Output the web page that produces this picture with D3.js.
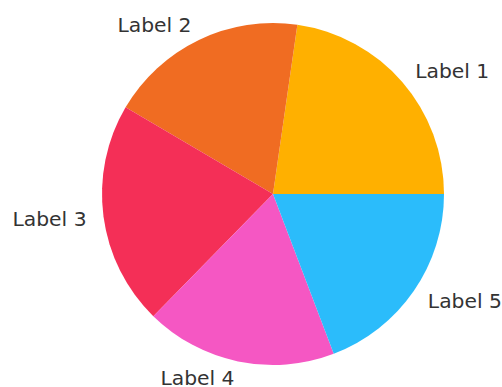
<!DOCTYPE html>
<html>
<head>
<meta charset="utf-8">
<script src="https://cdn.jsdelivr.net/npm/d3@7"></script>
<style>
  html, body { margin: 0; padding: 0; background: #fff; }
</style>
</head>
<body>
<svg id="chart" width="502" height="387"></svg>
<script>
const labels = ["Label 1", "Label 2", "Label 3", "Label 4", "Label 5"];
const values = [22.7, 18.8, 21.1, 18.1, 19.2];
const colors = ["#ffb000", "#f06c22", "#f42f57", "#f557c3", "#2bbcfb"];

const width = 502,
  height = 387;
const cx = 273,
  cy = 194,
  radius = 171;

const svg = d3.select("#chart");
const g = svg.append("g").attr("transform", `translate(${cx},${cy})`);

// matplotlib style: start at 3 o'clock, go counterclockwise
const pie = d3
  .pie()
  .sort(null)
  .value((d) => d)
  .startAngle(Math.PI / 2)
  .endAngle(Math.PI / 2 - 2 * Math.PI);

const arc = d3.arc().innerRadius(0).outerRadius(radius);
const arcs = pie(values);

g.selectAll("path")
  .data(arcs)
  .join("path")
  .attr("d", arc)
  .attr("fill", (d, i) => colors[i]);

// labels at 1.1 * radius
const lr = radius * 1.1;
g.selectAll("text")
  .data(arcs)
  .join("text")
  .attr("x", (d) => lr * Math.sin((d.startAngle + d.endAngle) / 2))
  .attr("y", (d) => -lr * Math.cos((d.startAngle + d.endAngle) / 2))
  .attr("dy", "0.36em")
  .attr("text-anchor", (d) =>
    Math.sin((d.startAngle + d.endAngle) / 2) >= 0 ? "start" : "end"
  )
  .attr("font-family", "DejaVu Sans, sans-serif")
  .attr("font-size", 20.3)
  .attr("fill", "#333")
  .text((d, i) => labels[i]);
</script>
</body>
</html>
